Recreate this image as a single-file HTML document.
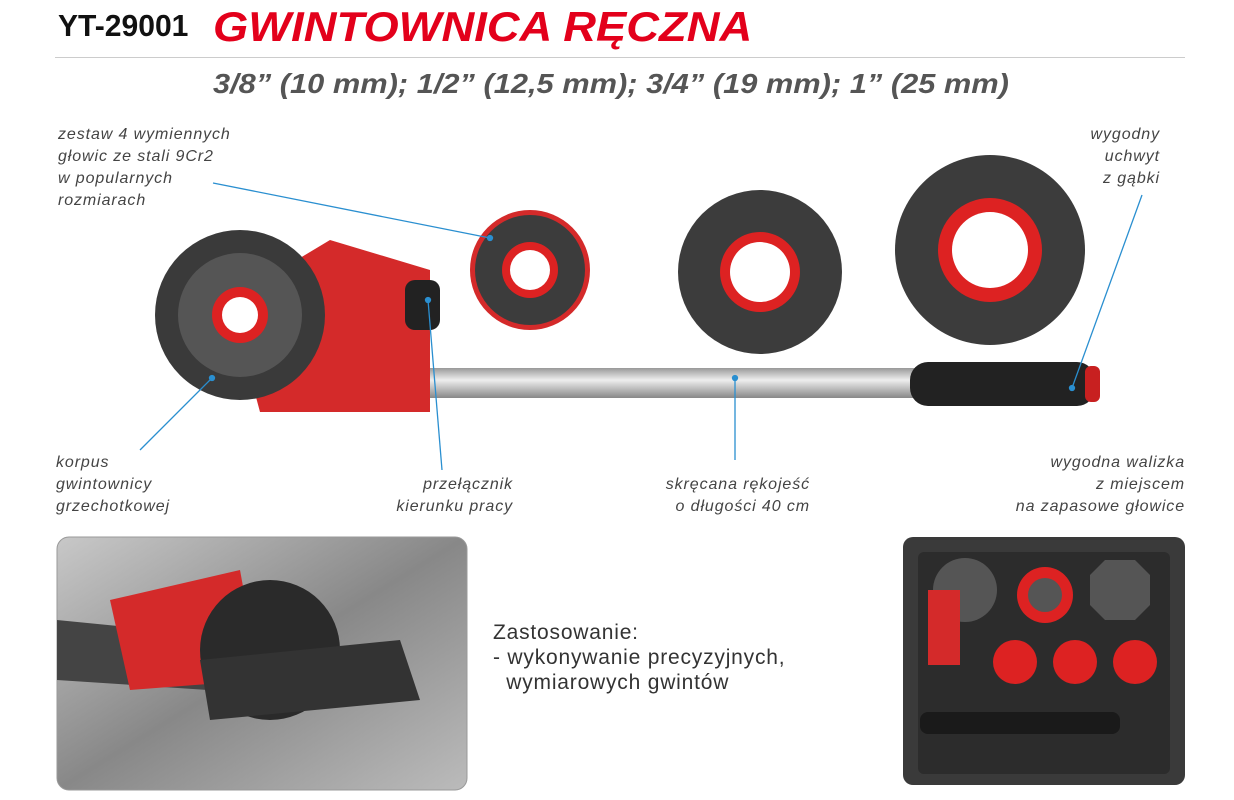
<!DOCTYPE html>
<html><head><meta charset="utf-8"><style>
body{margin:0;width:1234px;height:800px;background:#fff;overflow:hidden;position:relative;font-family:"Liberation Sans",sans-serif}
.t{position:absolute;font-style:italic;color:#444;font-size:16px;line-height:22px;letter-spacing:0.9px}
</style></head><body>
<div style="position:absolute;left:58px;top:8px;font-size:31px;font-weight:bold;color:#111;transform:scaleX(.97);transform-origin:left">YT-29001</div>
<div style="position:absolute;left:213px;top:3px;font-size:42px;font-weight:bold;font-style:italic;color:#e3001b;transform:scaleX(1.08);transform-origin:left">GWINTOWNICA RĘCZNA</div>
<div style="position:absolute;left:55px;top:57px;width:1130px;height:1px;background:#ccc"></div>
<div style="position:absolute;left:213px;top:68px;font-size:28px;font-weight:bold;font-style:italic;color:#555;transform:scaleX(1.1);transform-origin:left">3/8” (10 mm); 1/2” (12,5 mm); 3/4” (19 mm); 1” (25 mm)</div>
<div class="t" style="left:58px;top:124px">zestaw 4 wymiennych<br>głowic ze stali 9Cr2<br>w popularnych<br>rozmiarach</div>
<div class="t" style="left:1000px;top:124px;text-align:right;width:160px">wygodny<br>uchwyt<br>z gąbki</div>
<div class="t" style="left:56px;top:452px">korpus<br>gwintownicy<br>grzechotkowej</div>
<div class="t" style="left:330px;top:474px;text-align:right;width:183px">przełącznik<br>kierunku pracy</div>
<div class="t" style="left:600px;top:474px;text-align:right;width:210px">skręcana rękojeść<br>o długości 40 cm</div>
<div class="t" style="left:900px;top:452px;text-align:right;width:285px">wygodna walizka<br>z miejscem<br>na zapasowe głowice</div>
<div style="position:absolute;left:493px;top:620px;font-size:21px;color:#333;line-height:25px;letter-spacing:0.8px">Zastosowanie:<br>- wykonywanie precyzyjnych,<br>&nbsp;&nbsp;wymiarowych gwintów</div>
<svg width="1234" height="800" style="position:absolute;left:0;top:0">
<defs>
<linearGradient id="bar" x1="0" y1="0" x2="0" y2="1"><stop offset="0" stop-color="#999"/><stop offset=".4" stop-color="#eee"/><stop offset="1" stop-color="#888"/></linearGradient>
<linearGradient id="ph" x1="0" y1="0" x2="1" y2="1"><stop offset="0" stop-color="#c8c8c8"/><stop offset=".5" stop-color="#888"/><stop offset="1" stop-color="#bbb"/></linearGradient>
</defs>
<rect x="420" y="368" width="500" height="30" fill="url(#bar)"/>
<rect x="910" y="362" width="185" height="44" rx="18" fill="#222"/>
<rect x="1085" y="366" width="15" height="36" rx="6" fill="#c82020"/>
<path d="M230 300 L330 240 L430 270 L430 412 L260 412 Z" fill="#d42a2a"/>
<rect x="405" y="280" width="35" height="50" rx="10" fill="#222"/>
<circle cx="240" cy="315" r="85" fill="#3a3a3a"/>
<circle cx="240" cy="315" r="62" fill="#555"/>
<circle cx="240" cy="315" r="28" fill="#d22"/><circle cx="240" cy="315" r="18" fill="#fff"/>
<circle cx="530" cy="270" r="60" fill="#d42a2a"/><circle cx="530" cy="270" r="55" fill="#3c3c3c"/><circle cx="530" cy="270" r="28" fill="#d22"/><circle cx="530" cy="270" r="20" fill="#fff"/>
<circle cx="760" cy="272" r="82" fill="#3c3c3c"/><circle cx="760" cy="272" r="40" fill="#d22"/><circle cx="760" cy="272" r="30" fill="#fff"/>
<circle cx="990" cy="250" r="95" fill="#3c3c3c"/><circle cx="990" cy="250" r="52" fill="#d22"/><circle cx="990" cy="250" r="38" fill="#fff"/>
<g stroke="#2a8fd0" stroke-width="1.3" fill="#2a8fd0">
<line x1="213" y1="183" x2="490" y2="238"/>
<line x1="1142" y1="195" x2="1072" y2="388"/>
<line x1="212" y1="378" x2="140" y2="450"/>
<line x1="428" y1="300" x2="442" y2="470"/>
<line x1="735" y1="378" x2="735" y2="460"/>
<circle cx="212" cy="378" r="2.5"/><circle cx="428" cy="300" r="2.5"/><circle cx="735" cy="378" r="2.5"/><circle cx="1072" cy="388" r="2.5"/><circle cx="490" cy="238" r="2.5"/>
</g>
<rect x="57" y="537" width="410" height="253" rx="12" fill="url(#ph)" stroke="#999"/>
<path d="M57 620 L360 650 L360 700 L57 680 Z" fill="#444"/>
<path d="M110 600 L240 570 L260 680 L130 690 Z" fill="#d42a2a"/>
<circle cx="270" cy="650" r="70" fill="#2a2a2a"/>
<path d="M200 660 L400 640 L420 700 L210 720 Z" fill="#333"/>
<rect x="903" y="537" width="282" height="248" rx="10" fill="#3a3a3a"/>
<rect x="918" y="552" width="252" height="222" rx="6" fill="#2c2c2c"/>
<circle cx="965" cy="590" r="32" fill="#555"/><circle cx="1045" cy="595" r="28" fill="#d22"/><circle cx="1045" cy="595" r="17" fill="#555"/>
<polygon points="1105,560 1135,560 1150,575 1150,605 1135,620 1105,620 1090,605 1090,575" fill="#555"/>
<circle cx="1015" cy="662" r="22" fill="#d22"/><circle cx="1075" cy="662" r="22" fill="#d22"/><circle cx="1135" cy="662" r="22" fill="#d22"/>
<path d="M928 590 L960 590 L960 665 L928 665 Z" fill="#d42a2a"/>
<rect x="920" y="712" width="200" height="22" rx="8" fill="#1a1a1a"/>
</svg>
</body></html>
